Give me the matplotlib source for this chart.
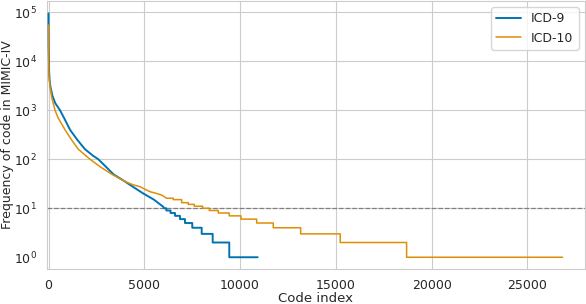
import numpy as np
import matplotlib
matplotlib.use('Agg')
import matplotlib.pyplot as plt
import seaborn as sns

sns.set_style('whitegrid')
plt.rcParams['font.family'] = ['DejaVu Sans']

colors = {'ICD-9': '#0173b2', 'ICD-10': '#de8f05'}

# smooth head of the sorted frequency curves (rank, frequency)
icd9_head_rank = [0, 3, 8, 20, 30, 60, 100, 200, 350, 600, 850, 1122, 1500, 1905,
                  2300, 2600, 3000, 3400, 4000, 4254, 4948, 5500, 5992]
icd9_head_freq = [95000, 60000, 20000, 12000, 6000, 4000, 3000, 2000, 1400, 1000, 650,
                  400, 250, 160, 120, 100, 70, 49, 35, 30, 20, 15, 10.7]
# integer tail: level starts (rank) and count level, last rank = end of curve
icd9_step_rank = [6030, 6150, 6370, 6603, 6863, 7124, 7505, 7996, 8570, 9436, 10918]
icd9_step_freq = [10, 9, 8, 7, 6, 5, 4, 3, 2, 1]

icd10_head_rank = [0, 3, 8, 25, 80, 170, 340, 500, 861, 1200, 1555, 2166, 2700,
                   3318, 4000, 4426, 4775, 5037, 5298, 5647, 5907]
icd10_head_freq = [55000, 25000, 10000, 5000, 3000, 1800, 1000, 700, 400, 250, 160,
                   100, 70, 49, 35, 30, 27.6, 24.4, 21.8, 20, 18.6]
icd10_step_rank = [6169, 6514, 6950, 7296, 7609, 8046, 8393, 8862, 9436, 10047, 10866,
                   11733, 13163, 15230, 18695, 26837]
icd10_step_freq = [16, 15, 13, 12, 11, 10, 9, 8, 7, 6, 5, 4, 3, 2, 1]


def build(head_r, head_f, step_r, step_f):
    xs, ys = list(head_r), list(head_f)
    for i, lvl in enumerate(step_f):
        xs += [step_r[i], step_r[i + 1]]
        ys += [lvl, lvl]
    return xs, ys


fig = plt.figure(figsize=(5.86, 3.04), dpi=100)
ax = fig.add_axes([0.0802, 0.1151, 0.9178, 0.8816])

x9, y9 = build(icd9_head_rank, icd9_head_freq, icd9_step_rank, icd9_step_freq)
x10, y10 = build(icd10_head_rank, icd10_head_freq, icd10_step_rank, icd10_step_freq)
ax.plot(x9, y9, color=colors['ICD-9'], lw=1.4, label='ICD-9', zorder=3)
ax.plot(x10, y10, color=colors['ICD-10'], lw=1.1, label='ICD-10', zorder=3)

ax.axhline(10, color='gray', linestyle='--', lw=0.9, zorder=2)

ax.set_yscale('log')
ax.set_xlim(-80, 28000)
ax.set_ylim(10 ** -0.24, 10 ** 5.23)
ax.set_xticks([0, 5000, 10000, 15000, 20000, 25000])
ax.set_yticks([1, 10, 100, 1000, 10000, 100000])
ax.yaxis.set_minor_locator(matplotlib.ticker.NullLocator())
ax.tick_params(labelsize=9, colors='.15', pad=4)
# the reference has no grid line at 10^0
ax.yaxis.get_gridlines()[0].set_visible(False)

ax.set_xlabel('Code index', fontsize=9.5, labelpad=0)
ax.set_ylabel('Frequency of code in MIMIC-IV', fontsize=9, labelpad=0)
ax.legend(loc='upper right', fontsize=9)

plt.savefig('out.png', dpi=100)
plt.close()
